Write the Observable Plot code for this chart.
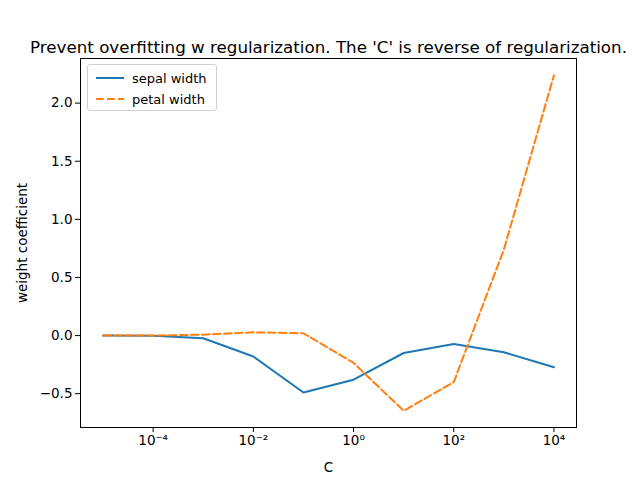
<!DOCTYPE html>
<html>
<head>
<meta charset="utf-8">
<script src="https://cdn.jsdelivr.net/npm/d3@7"></script>
<script src="https://cdn.jsdelivr.net/npm/@observablehq/plot@0.6"></script>
<style>
  html, body { margin: 0; padding: 0; background: #fff; }
  #wrap { position: relative; width: 640px; height: 480px; font-family: "DejaVu Sans", sans-serif; }
  #legend { position: absolute; left: 87px; top: 64px; width: 128px; height: 45px; border: 1px solid #d0d0d0; border-radius: 3px; background: rgba(255,255,255,0.8); font-size: 13px; }
  .row { position: absolute; left: 8px; height: 18px; display: flex; align-items: center; }
  .row svg { margin-right: 8px; }
</style>
</head>
<body>
<div id="wrap"></div>
<script>
const C = [1e-5, 1e-4, 1e-3, 1e-2, 1e-1, 1e0, 1e1, 1e2, 1e3, 1e4];
const sepalWidth = [0.0, -0.002, -0.023, -0.18, -0.49, -0.38, -0.15, -0.072, -0.144, -0.273];
const petalWidth = [0.0, 0.0, 0.008, 0.028, 0.02, -0.235, -0.647, -0.40, 0.74, 2.24];
const xTicks = [1e-4, 1e-2, 1e0, 1e2, 1e4];
const xTickLabels = ["10\u207B\u2074", "10\u207B\u00B2", "10\u2070", "10\u00B2", "10\u2074"];
const yTicks = [-0.5, 0.0, 0.5, 1.0, 1.5, 2.0];
const seriesNames = ["sepal width", "petal width"];
const colors = ["#1f77b4", "#ff7f0e"];

const sepal = C.map((c, i) => ({C: c, w: sepalWidth[i]}));
const petal = C.map((c, i) => ({C: c, w: petalWidth[i]}));

const plot = Plot.plot({
  width: 640,
  height: 480,
  marginLeft: 80,
  marginRight: 64,
  marginTop: 58,
  marginBottom: 53,
  style: {fontFamily: "DejaVu Sans, sans-serif", fontSize: "13px", color: "#000", background: "#fff"},
  x: {type: "log", domain: [Math.pow(10, -5.45), Math.pow(10, 4.45)]},
  y: {domain: [-0.791, 2.384]},
  marks: [
    Plot.frame({stroke: "#000", strokeWidth: 1}),
    Plot.axisX({ticks: xTicks, tickFormat: (d) => xTickLabels[xTicks.indexOf(d)], tickSize: 5, tickPadding: 3, fontSize: 13.5, label: null}),
    Plot.axisY({ticks: yTicks, tickFormat: d3.format(".1f"), tickSize: 5, tickPadding: 3, fontSize: 13.5, label: null}),
    Plot.text(["C"], {frameAnchor: "bottom", dy: 44, fontSize: 13.5, fill: "#000"}),
    Plot.text(["weight coefficient"], {frameAnchor: "left", dx: -58, rotate: -90, textAnchor: "middle", fontSize: 13.5, fill: "#000"}),
    Plot.text(["Prevent overfitting w regularization. The 'C' is reverse of regularization."], {frameAnchor: "top", dy: -17, fontSize: 16.7, fill: "#000"}),
    Plot.line(sepal, {x: "C", y: "w", stroke: colors[0], strokeWidth: 2}),
    Plot.line(petal, {x: "C", y: "w", stroke: colors[1], strokeWidth: 2, strokeDasharray: "7.7,3.3"})
  ]
});

const wrap = document.getElementById("wrap");
wrap.appendChild(plot);

const legend = document.createElement("div");
legend.id = "legend";
seriesNames.forEach((name, i) => {
  const row = document.createElement("div");
  row.className = "row";
  row.style.top = (4 + i * 21) + "px";
  row.innerHTML = `<svg width="28" height="6"><line x1="0" y1="3" x2="28" y2="3" stroke="${colors[i]}" stroke-width="2" ${i === 1 ? 'stroke-dasharray="7.7,3.3"' : ''}/></svg><span>${name}</span>`;
  legend.appendChild(row);
});
wrap.appendChild(legend);
</script>
</body>
</html>
